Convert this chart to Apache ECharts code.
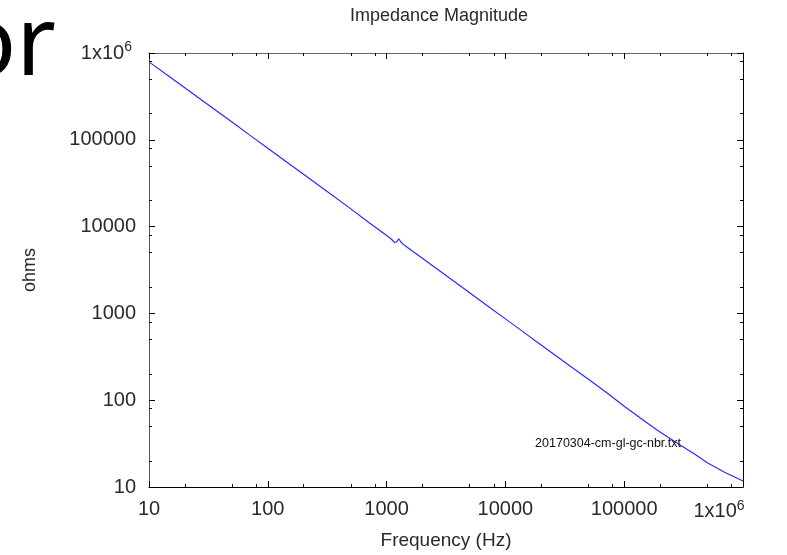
<!DOCTYPE html>
<html><head><meta charset="utf-8">
<script src="https://cdn.jsdelivr.net/npm/echarts@6/dist/echarts.min.js"></script>
<style>html,body{margin:0;padding:0;background:#fff}#c{width:787px;height:555px}</style>
</head><body><div id="c"></div>
<script>
const freqHz = [10, 15, 20, 30, 50, 70, 100, 150, 200, 300, 500, 700, 1000, 1100, 1170, 1220, 1265, 1320, 1374, 1500, 2000, 3000, 5000, 7000, 10000, 15000, 20000, 30000, 50000, 70000, 100000, 150000, 200000, 300000, 400000, 500000, 700000, 1000000];
const ohms = [790000, 530000, 398000, 266000, 160000, 114000, 80000, 53300, 40000, 26700, 16000, 11300, 7900, 7150, 6550, 6700, 7250, 6650, 6280, 5750, 4320, 2880, 1730, 1235, 865, 577, 433, 289, 174, 124, 85, 57, 43, 30, 23.5, 19, 14.8, 11.7];
const seriesName = '20170304-cm-gl-gc-nbr.txt';
const titleText = 'Impedance Magnitude';
const xName = 'Frequency (Hz)';
const yName = 'ohms';
const xMajorTicks = [10, 100, 1000, 10000, 100000, 1000000];
const xMinorTicks = [20, 50, 80, 200, 500, 800, 2000, 5000, 8000, 20000, 50000, 80000, 200000, 500000, 800000];
const yMajorTicks = [10, 100, 1000, 10000, 100000, 1000000];
const yMinorTicks = [20, 50, 80, 200, 500, 800, 2000, 5000, 8000, 20000, 50000, 80000, 200000, 500000, 800000];

const txt = '#2a2a2a';
const FONT = 'Liberation Sans, Arial, sans-serif';

function fmt(v) {
  const e = Math.round(Math.log10(v));
  if (e >= 6) return '{b|1x10}{s|6}';
  return '{b|' + String(Math.round(v)) + '}';
}
const richX = {
  b: {fontSize: 20, color: txt, fontFamily: FONT},
  s: {fontSize: 14, color: txt, fontFamily: FONT, padding: [0, 48, 11, 0]}
};
const richY = {
  b: {fontSize: 20, color: txt, fontFamily: FONT},
  s: {fontSize: 14, color: txt, fontFamily: FONT, padding: [0, 4, 11, 0]}
};

function axisX(pos, major, lineColor, withLabel) {
  return {
    type: 'log', logBase: 10, min: 10, max: 1000000, position: pos,
    axisLine: {show: major, lineStyle: {color: lineColor, width: 1}},
    axisTick: {show: true, inside: true, length: major ? 6 : 3, lineStyle: {color: '#000'},
               customValues: major ? xMajorTicks : xMinorTicks},
    axisLabel: withLabel ? {show: true, margin: 12, formatter: fmt, rich: richX, customValues: xMajorTicks} : {show: false},
    splitLine: {show: false},
    name: withLabel ? xName : '',
    nameLocation: 'middle', nameGap: 44,
    nameTextStyle: {fontSize: 19, color: txt, fontFamily: FONT}
  };
}
function axisY(pos, major, lineColor, withLabel) {
  return {
    type: 'log', logBase: 10, min: 10, max: 1000000, position: pos,
    axisLine: {show: major, lineStyle: {color: lineColor, width: 1}},
    axisTick: {show: true, inside: true, length: major ? 6 : 3, lineStyle: {color: '#000'},
               customValues: major ? yMajorTicks : yMinorTicks},
    axisLabel: withLabel ? {show: true, margin: 13, formatter: fmt, rich: richY, customValues: yMajorTicks} : {show: false},
    splitLine: {show: false},
    name: withLabel ? yName : '',
    nameLocation: 'middle', nameGap: 110, nameRotate: 90,
    nameTextStyle: {fontSize: 18, color: txt, fontFamily: FONT}
  };
}

const chart = echarts.init(document.getElementById('c'), null, {renderer: 'canvas'});
chart.setOption({
  backgroundColor: '#fff',
  animation: false,
  title: {text: titleText, left: 345, top: 2,
          textStyle: {fontSize: 18, fontWeight: 'normal', color: txt, fontFamily: FONT}},
  legend: {data: [seriesName], right: 101, top: 432, icon: 'none', itemWidth: 0, itemHeight: 0,
           textStyle: {fontSize: 12.5, color: '#111', fontFamily: FONT}},
  grid: {left: 149, right: 44, top: 53, bottom: 68, containLabel: false},
  xAxis: [
    axisX('bottom', true, '#000', true),
    axisX('bottom', false, '#000', false),
    axisX('top', true, '#666', false),
    axisX('top', false, '#666', false)
  ],
  yAxis: [
    axisY('left', true, '#555', true),
    axisY('left', false, '#555', false),
    axisY('right', true, '#000', false),
    axisY('right', false, '#000', false)
  ],
  graphic: [{
    type: 'text', x: 56, y: 96,
    style: {text: 'or', fontSize: 96, fontFamily: 'Noto Sans', fill: '#000',
            textAlign: 'right', textVerticalAlign: 'bottom'}
  }],
  series: [{
    name: seriesName, type: 'line', xAxisIndex: 0, yAxisIndex: 0,
    data: freqHz.map((f, i) => [f, ohms[i]]),
    showSymbol: false, symbol: 'none',
    lineStyle: {color: '#2a2aff', width: 1.2},
    itemStyle: {color: '#2a2aff'}
  }]
});
</script></body></html>
